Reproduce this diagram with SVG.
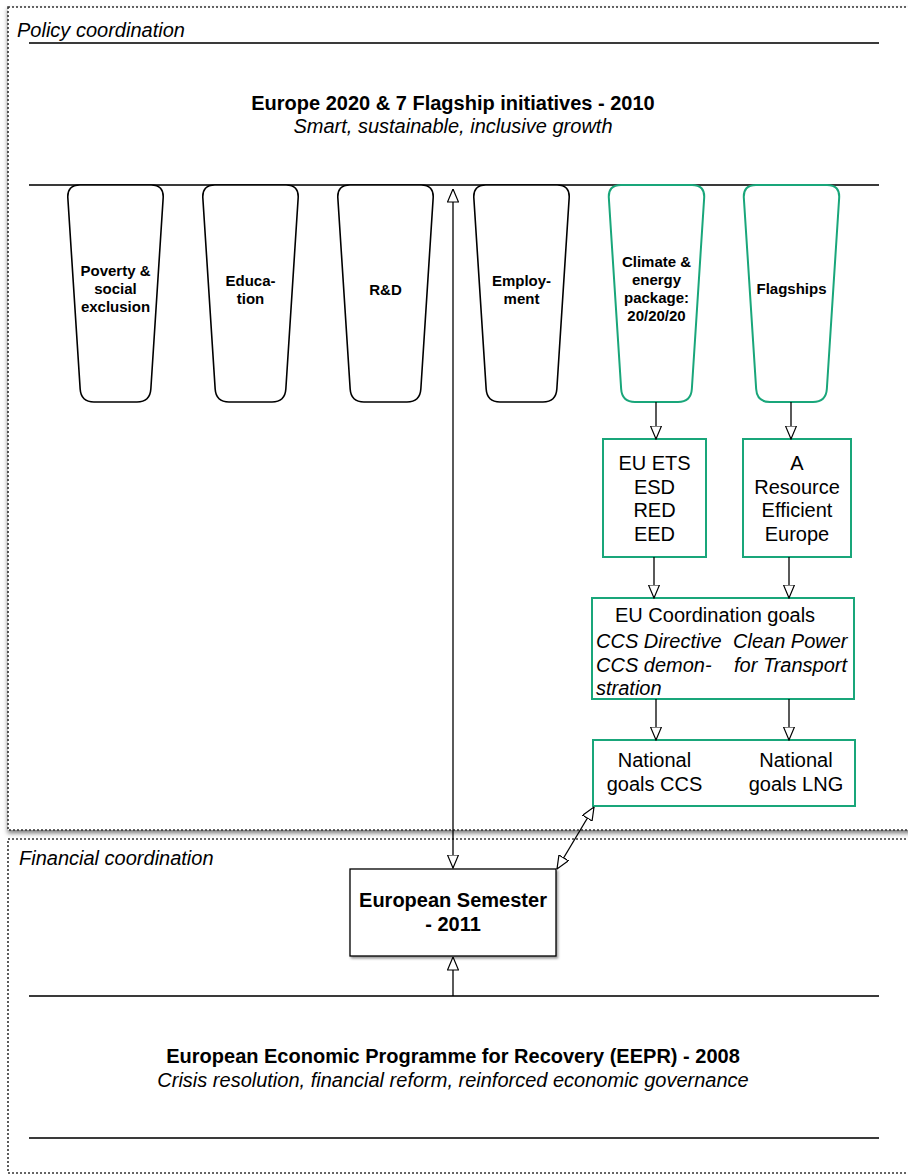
<svg xmlns="http://www.w3.org/2000/svg" width="908" height="1176" viewBox="0 0 908 1176">
<style>
  text { font-family: "Liberation Sans", Arial, Helvetica, sans-serif; fill: #000; }
  .t20 { font-size: 20px; }
  .b20 { font-size: 20px; font-weight: bold; }
  .i20 { font-size: 20px; font-style: italic; }
  .b15 { font-size: 15px; font-weight: bold; }
  .frame { fill: #fff; stroke: #333; stroke-width: 1.6; stroke-dasharray: 2 2; }
  .rule { stroke: #3a3a3a; stroke-width: 2.2; fill: none; }
  .trap { fill: #fff; stroke: #000; stroke-width: 1.6; }
  .trapg { fill: #fff; stroke: #19a67a; stroke-width: 2; }
  .gbox { fill: #fff; stroke: #19a67a; stroke-width: 2; }
  .box { fill: #fff; stroke: #000; stroke-width: 1.3; }
  .conn { stroke: #000; stroke-width: 1.3; fill: none; }
</style>
<defs>
  <filter id="sh" x="-5%" y="-5%" width="110%" height="110%">
    <feDropShadow dx="0" dy="3" stdDeviation="2" flood-color="#000" flood-opacity="0.5"/>
  </filter>
  <filter id="shb" x="-10%" y="-10%" width="120%" height="130%">
    <feDropShadow dx="1.5" dy="2" stdDeviation="1" flood-color="#000" flood-opacity="0.4"/>
  </filter>
  <marker id="arr" viewBox="0 0 14 12" markerWidth="14" markerHeight="12" refX="13.5" refY="6" orient="auto-start-reverse" markerUnits="userSpaceOnUse">
    <path d="M0.5,0.5 L13.5,6 L0.5,11.5 Z" fill="#fff" stroke="#000" stroke-width="1.2"/>
  </marker>
  <path id="trapShape" d="M13,0 L84,0 Q97,0 96.16,12.97 L83.84,204.03 Q83,217 70,217 L27,217 Q14,217 13.16,204.03 L0.84,12.97 Q0,0 13,0 Z"/>
</defs>

<rect width="908" height="1176" fill="#fff"/>

<g id="policy-frame">
  <rect class="frame" x="8" y="7" width="920" height="823" filter="url(#sh)"/>
  <text class="i20" x="17" y="37">Policy coordination</text>
  <line class="rule" x1="29" y1="43" x2="879" y2="43"/>
  <line class="rule" x1="29" y1="185" x2="879" y2="185"/>
</g>

<g id="financial-frame">
  <rect class="frame" x="8" y="839" width="920" height="334"/>
  <text class="i20" x="19" y="865">Financial coordination</text>
  <line class="rule" x1="29" y1="996" x2="879" y2="996"/>
  <line class="rule" x1="29" y1="1138" x2="879" y2="1138"/>
</g>

<g id="europe2020">
  <text class="b20" x="453" y="110" text-anchor="middle">Europe 2020 &amp; 7 Flagship initiatives - 2010</text>
  <text class="i20" x="453" y="133" text-anchor="middle">Smart, sustainable, inclusive growth</text>
</g>

<g id="eepr">
  <text class="b20" x="453" y="1063" text-anchor="middle">European Economic Programme for Recovery (EEPR) - 2008</text>
  <text class="i20" x="453" y="1087" text-anchor="middle">Crisis resolution, financial reform, reinforced economic governance</text>
</g>

<g id="poverty">
  <use href="#trapShape" class="trap" x="67" y="185"/>
  <text class="b15" text-anchor="middle"><tspan x="115.5" y="276">Poverty &amp;</tspan><tspan x="115.5" y="294">social</tspan><tspan x="115.5" y="312">exclusion</tspan></text>
</g>
<g id="education">
  <use href="#trapShape" class="trap" x="202" y="185"/>
  <text class="b15" text-anchor="middle"><tspan x="250.5" y="286">Educa-</tspan><tspan x="250.5" y="304">tion</tspan></text>
</g>
<g id="rd">
  <use href="#trapShape" class="trap" x="337" y="185"/>
  <text class="b15" x="385.5" y="295" text-anchor="middle">R&amp;D</text>
</g>
<g id="employment">
  <use href="#trapShape" class="trap" x="473" y="185"/>
  <text class="b15" text-anchor="middle"><tspan x="521.5" y="286">Employ-</tspan><tspan x="521.5" y="304">ment</tspan></text>
</g>
<g id="climate">
  <use href="#trapShape" class="trapg" x="608" y="185"/>
  <text class="b15" text-anchor="middle"><tspan x="656.5" y="267">Climate &amp;</tspan><tspan x="656.5" y="285">energy</tspan><tspan x="656.5" y="303">package:</tspan><tspan x="656.5" y="321">20/20/20</tspan></text>
</g>
<g id="flagships">
  <use href="#trapShape" class="trapg" x="743" y="185"/>
  <text class="b15" x="791.5" y="294" text-anchor="middle">Flagships</text>
</g>

<g id="eu-ets">
  <rect class="gbox" x="603" y="439" width="103" height="118"/>
  <text class="t20" text-anchor="middle"><tspan x="654.5" y="470">EU ETS</tspan><tspan x="654.5" y="494">ESD</tspan><tspan x="654.5" y="517">RED</tspan><tspan x="654.5" y="541">EED</tspan></text>
</g>
<g id="resource-efficient">
  <rect class="gbox" x="743" y="439" width="108" height="118"/>
  <text class="t20" text-anchor="middle"><tspan x="797" y="470">A</tspan><tspan x="797" y="494">Resource</tspan><tspan x="797" y="517">Efficient</tspan><tspan x="797" y="541">Europe</tspan></text>
</g>
<g id="eu-coordination">
  <rect class="gbox" x="592" y="598" width="262" height="101"/>
  <text class="t20" x="615" y="622">EU Coordination goals</text>
  <text class="i20"><tspan x="596" y="648">CCS Directive</tspan><tspan x="596" y="672">CCS demon-</tspan><tspan x="596" y="695">stration</tspan></text>
  <text class="i20"><tspan x="733" y="648">Clean Power</tspan><tspan x="734" y="672">for Transport</tspan></text>
</g>
<g id="national-goals">
  <rect class="gbox" x="593" y="740" width="262" height="66"/>
  <text class="t20" text-anchor="middle"><tspan x="654.5" y="767">National</tspan><tspan x="654.5" y="791">goals CCS</tspan></text>
  <text class="t20" text-anchor="middle"><tspan x="796" y="767">National</tspan><tspan x="796" y="791">goals LNG</tspan></text>
</g>
<g id="european-semester">
  <rect class="box" x="350" y="869" width="206" height="87" filter="url(#shb)"/>
  <text class="b20" text-anchor="middle"><tspan x="453" y="907">European Semester</tspan><tspan x="453" y="931">- 2011</tspan></text>
</g>

<g id="connectors">
  <line class="conn" x1="656" y1="402" x2="656" y2="439" marker-end="url(#arr)"/>
  <line class="conn" x1="791" y1="402" x2="791" y2="439" marker-end="url(#arr)"/>
  <line class="conn" x1="654" y1="557" x2="654" y2="598" marker-end="url(#arr)"/>
  <line class="conn" x1="789" y1="557" x2="789" y2="598" marker-end="url(#arr)"/>
  <line class="conn" x1="656" y1="699" x2="656" y2="740" marker-end="url(#arr)"/>
  <line class="conn" x1="789" y1="699" x2="789" y2="740" marker-end="url(#arr)"/>
  <line class="conn" x1="557" y1="869" x2="594" y2="807" marker-start="url(#arr)" marker-end="url(#arr)"/>
  <line class="conn" x1="453" y1="189" x2="453" y2="868" marker-start="url(#arr)" marker-end="url(#arr)"/>
  <line class="conn" x1="453" y1="996" x2="453" y2="957" marker-end="url(#arr)"/>
</g>
</svg>
